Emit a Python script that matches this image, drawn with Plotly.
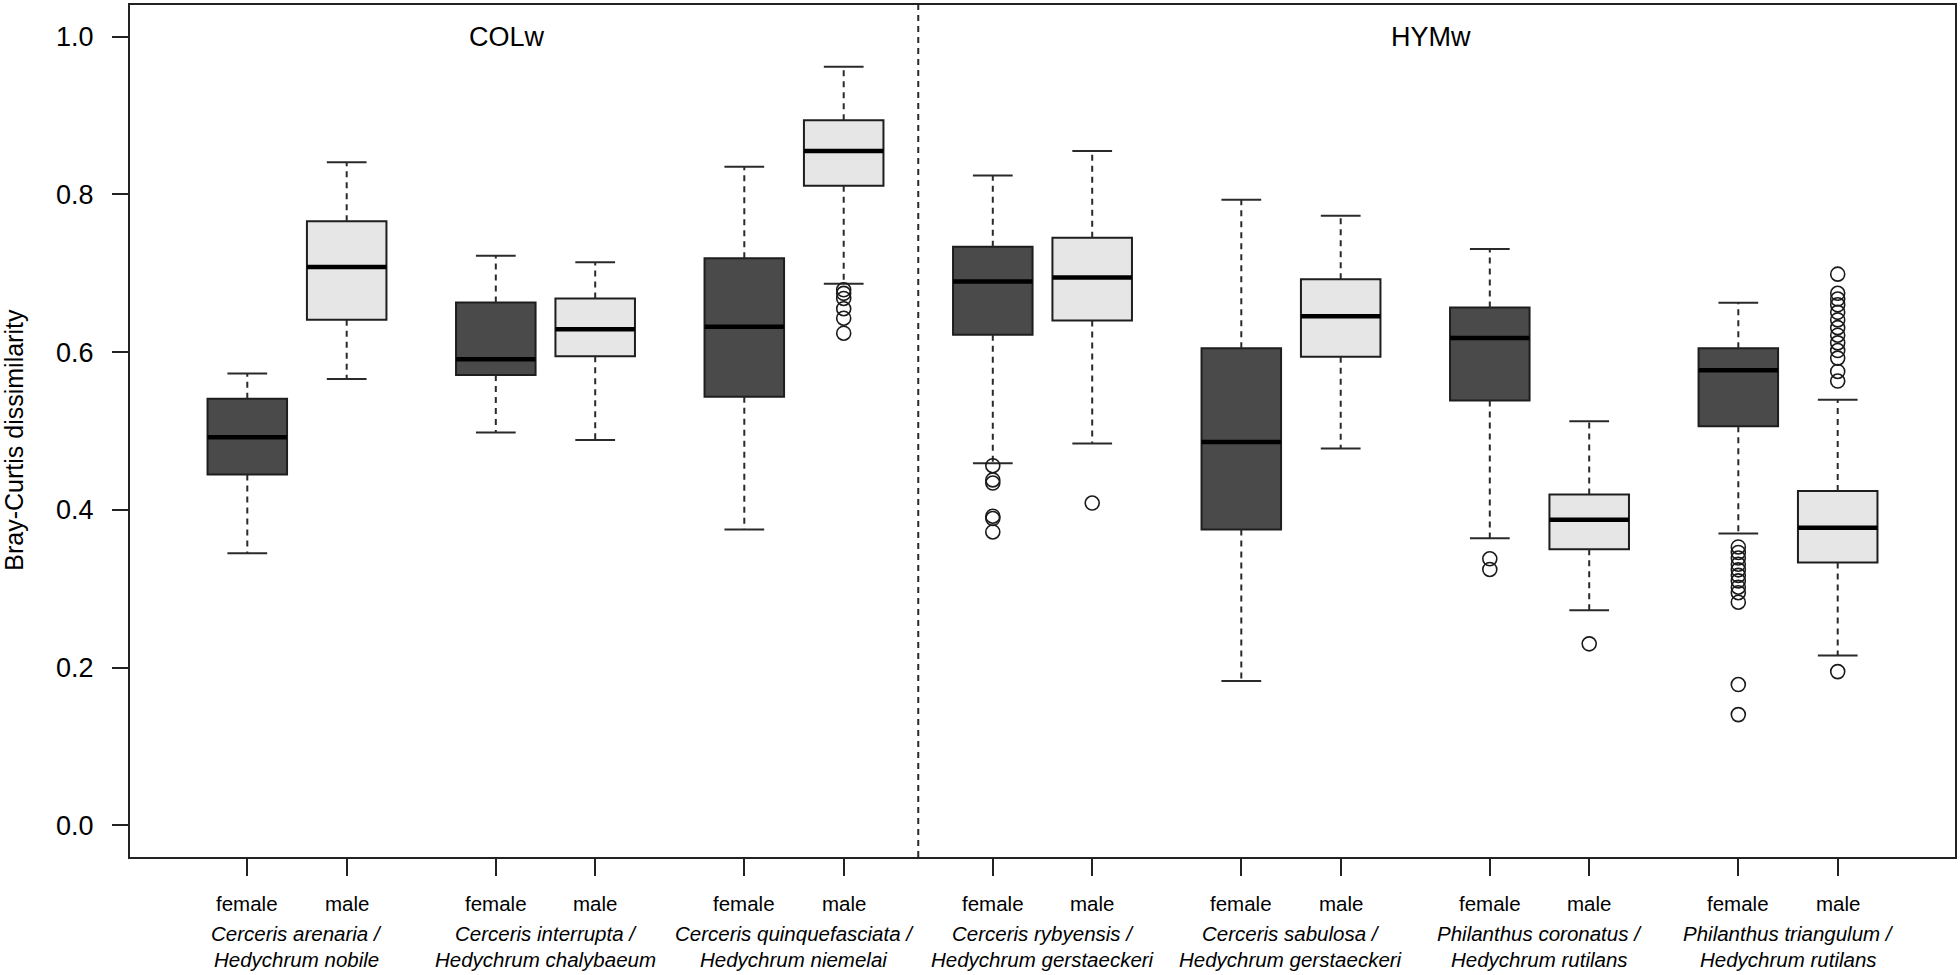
import plotly.graph_objects as go

# ---------------- data ----------------
species_line1 = ["Cerceris arenaria /", "Cerceris interrupta /", "Cerceris quinquefasciata /",
                 "Cerceris rybyensis /", "Cerceris sabulosa /", "Philanthus coronatus /",
                 "Philanthus triangulum /"]
species_line2 = ["Hedychrum nobile", "Hedychrum chalybaeum", "Hedychrum niemelai",
                 "Hedychrum gerstaeckeri", "Hedychrum gerstaeckeri", "Hedychrum rutilans",
                 "Hedychrum rutilans"]
sex_labels = ["female", "male"]
panel_labels = ["COLw", "HYMw"]
panel_label_x = [3.61, 12.91]

# five-number summaries: lower whisker, Q1, median, Q3, upper whisker
female_low = [0.345, 0.498, 0.375, 0.459, 0.183, 0.364, 0.370]
female_q1 = [0.445, 0.571, 0.5435, 0.622, 0.375, 0.5387, 0.506]
female_med = [0.492, 0.591, 0.632, 0.6895, 0.486, 0.618, 0.577]
female_q3 = [0.541, 0.663, 0.719, 0.7335, 0.605, 0.6567, 0.605]
female_high = [0.573, 0.722, 0.835, 0.824, 0.793, 0.7306, 0.6625]

male_low = [0.566, 0.4887, 0.6866, 0.484, 0.4777, 0.2727, 0.2154]
male_q1 = [0.641, 0.5948, 0.811, 0.640, 0.594, 0.3501, 0.3333]
male_med = [0.708, 0.6289, 0.855, 0.6946, 0.6453, 0.3876, 0.3773]
male_q3 = [0.766, 0.668, 0.894, 0.745, 0.6925, 0.4196, 0.4241]
male_high = [0.8406, 0.714, 0.9617, 0.855, 0.773, 0.5123, 0.5397]

female_out = [
    [], [], [],
    [0.456, 0.438, 0.434, 0.392, 0.389, 0.372],
    [],
    [0.338, 0.3245],
    [0.353, 0.346, 0.339, 0.331, 0.324, 0.317, 0.310, 0.302, 0.295, 0.283, 0.1786, 0.1405],
]
male_out = [
    [], [],
    [0.679, 0.6745, 0.668, 0.655, 0.643, 0.624],
    [0.4087],
    [],
    [0.2302],
    [0.6988, 0.6746, 0.6673, 0.660, 0.6504, 0.6408, 0.631, 0.6214, 0.6117, 0.602,
     0.5924, 0.5755, 0.5633, 0.195],
]

y_ticks = [0.0, 0.2, 0.4, 0.6, 0.8, 1.0]

# ---------------- layout constants ----------------
FEMALE_FILL = "#4a4a4a"
MALE_FILL = "#e6e6e6"
EDGE = "#1e1e1e"
FONT = "Liberation Sans, Arial, Helvetica, sans-serif"
BOXW = 0.8
CAPW = 0.4
n = len(species_line1)
pos_f = [1 + 2.5 * i for i in range(n)]
pos_m = [p + 1 for p in pos_f]

fig = go.Figure()


def add_group(pos, low, q1, med, q3, high, outs, fill):
    for i, p in enumerate(pos):
        fig.add_trace(go.Box(
            x=[p], q1=[q1[i]], median=[med[i]], q3=[q3[i]],
            lowerfence=[q1[i]], upperfence=[q3[i]],
            width=BOXW, fillcolor=fill, line=dict(color=EDGE, width=2),
            whiskerwidth=0, boxpoints=False, showlegend=False, hoverinfo="skip"))
    # whiskers (dashed)
    wx, wy = [], []
    for i, p in enumerate(pos):
        wx += [p, p, None, p, p, None]
        wy += [q3[i], high[i], None, q1[i], low[i], None]
    fig.add_trace(go.Scatter(x=wx, y=wy, mode="lines",
                             line=dict(color="#2a2a2a", width=2, dash="6px,5px"),
                             showlegend=False, hoverinfo="skip"))
    # caps
    cx, cy = [], []
    for i, p in enumerate(pos):
        cx += [p - CAPW / 2, p + CAPW / 2, None, p - CAPW / 2, p + CAPW / 2, None]
        cy += [high[i], high[i], None, low[i], low[i], None]
    fig.add_trace(go.Scatter(x=cx, y=cy, mode="lines",
                             line=dict(color="#2a2a2a", width=2),
                             showlegend=False, hoverinfo="skip"))
    # medians
    mx, my = [], []
    for i, p in enumerate(pos):
        mx += [p - BOXW / 2, p + BOXW / 2, None]
        my += [med[i], med[i], None]
    fig.add_trace(go.Scatter(x=mx, y=my, mode="lines",
                             line=dict(color="black", width=4.5),
                             showlegend=False, hoverinfo="skip"))
    # outliers
    ox, oy = [], []
    for i, p in enumerate(pos):
        ox += [p] * len(outs[i])
        oy += outs[i]
    fig.add_trace(go.Scatter(x=ox, y=oy, mode="markers",
                             marker=dict(symbol="circle-open", size=14,
                                         color="#1a1a1a", line=dict(width=1.6)),
                             showlegend=False, hoverinfo="skip"))


add_group(pos_f, female_low, female_q1, female_med, female_q3, female_high, female_out, FEMALE_FILL)
add_group(pos_m, male_low, male_q1, male_med, male_q3, male_high, male_out, MALE_FILL)

# divider between COLw and HYMw
div_x = (pos_m[2] + pos_f[3]) / 2
fig.add_shape(type="line", xref="x", yref="paper", x0=div_x, x1=div_x, y0=0, y1=1,
              line=dict(color="#2a2a2a", width=2, dash="6px,5px"))

# panel labels
for lab, px in zip(panel_labels, panel_label_x):
    fig.add_annotation(x=px, y=1.0, xref="x", yref="y", text=lab, showarrow=False,
                       font=dict(family=FONT, size=27, color="black"),
                       xanchor="center", yanchor="middle")

# x labels
for i in range(n):
    for p, s in zip([pos_f[i], pos_m[i]], sex_labels):
        fig.add_annotation(x=p, y=-0.054, xref="x", yref="paper", text=s, showarrow=False,
                           font=dict(family=FONT, size=20.5, color="black"),
                           xanchor="center", yanchor="middle")
    cx = (pos_f[i] + pos_m[i]) / 2
    fig.add_annotation(x=cx, y=-0.090, xref="x", yref="paper", text="<i>" + species_line1[i] + "</i>",
                       showarrow=False, font=dict(family=FONT, size=20.5, color="black"),
                       xanchor="center", yanchor="middle")
    fig.add_annotation(x=cx, y=-0.1205, xref="x", yref="paper", text="<i>" + species_line2[i] + "</i>",
                       showarrow=False, font=dict(family=FONT, size=20.5, color="black"),
                       xanchor="center", yanchor="middle")

# y label
fig.add_annotation(x=-0.064, y=0.49, xref="paper", yref="paper", text="Bray-Curtis dissimilarity",
                   showarrow=False, textangle=-90, font=dict(family=FONT, size=25, color="black"),
                   xanchor="center", yanchor="middle")

fig.update_layout(
    width=1960, height=975,
    margin=dict(l=130, r=4, t=3, b=118),
    paper_bgcolor="white", plot_bgcolor="white",
    boxmode="overlay",
    showlegend=False,
    font=dict(family=FONT, color="black"),
)
fig.update_xaxes(range=[-0.18, 18.18], tickmode="array", tickvals=pos_f + pos_m,
                 showticklabels=False, ticks="outside", ticklen=17, tickwidth=1.5,
                 tickcolor="#222", showline=True, mirror=True, linecolor="#222",
                 linewidth=2, showgrid=False, zeroline=False)
fig.update_yaxes(range=[-0.04, 1.04], tickmode="array", tickvals=y_ticks,
                 ticktext=["%.1f" % v for v in y_ticks],
                 ticks="outside", ticklen=16, tickwidth=1.5, tickcolor="#222",
                 tickfont=dict(family=FONT, size=27, color="black"),
                 ticklabelstandoff=13,
                 showline=True, mirror=True, linecolor="#222", linewidth=2,
                 showgrid=False, zeroline=False)

fig.write_html("out.html",
               config={"displayModeBar": False},
               post_script="document.body.style.margin='0px';document.body.style.overflow='hidden';")
